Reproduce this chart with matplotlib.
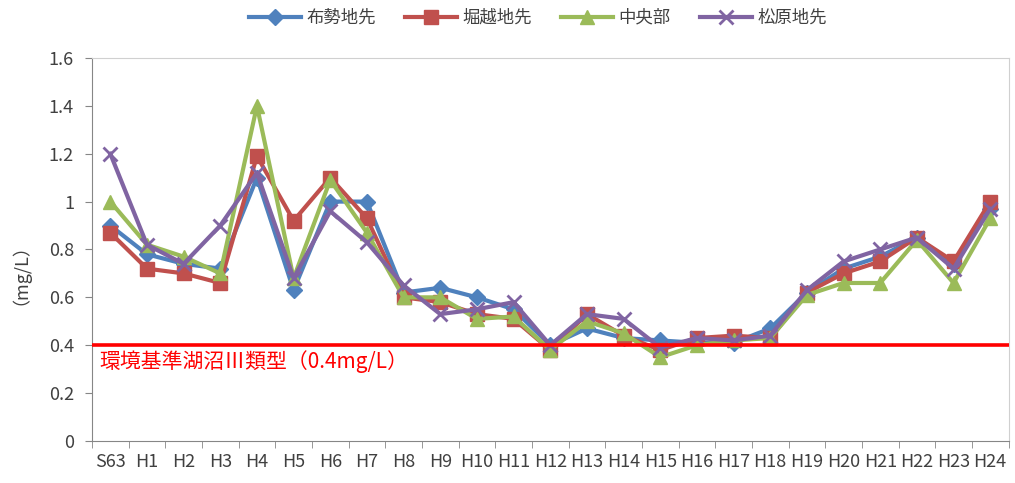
import matplotlib
matplotlib.use("Agg")
import matplotlib.pyplot as plt
import numpy as np

plt.rcParams['font.family'] = ['Noto Sans CJK JP', 'DejaVu Sans']

years = ["S63", "H1", "H2", "H3", "H4", "H5", "H6", "H7", "H8", "H9",
         "H10", "H11", "H12", "H13", "H14", "H15", "H16", "H17", "H18",
         "H19", "H20", "H21", "H22", "H23", "H24"]

fuse = [0.90, 0.78, 0.74, 0.72, 1.10, 0.63, 1.00, 1.00, 0.62, 0.64,
        0.60, 0.55, 0.40, 0.47, 0.43, 0.42, 0.41, 0.41, 0.47,
        0.62, 0.72, 0.77, 0.85, 0.74, 0.97]
horikoshi = [0.87, 0.72, 0.70, 0.66, 1.19, 0.92, 1.10, 0.93, 0.60, 0.58,
             0.53, 0.51, 0.38, 0.53, 0.44, 0.38, 0.43, 0.44, 0.43,
             0.62, 0.70, 0.75, 0.85, 0.75, 1.00]
chuo = [1.00, 0.82, 0.77, 0.70, 1.40, 0.68, 1.09, 0.87, 0.60, 0.60,
        0.51, 0.52, 0.38, 0.50, 0.45, 0.35, 0.40, 0.42, 0.43,
        0.61, 0.66, 0.66, 0.84, 0.66, 0.93]
matsubara = [1.20, 0.82, 0.74, 0.90, 1.12, 0.68, 0.96, 0.83, 0.65, 0.53,
             0.55, 0.58, 0.40, 0.53, 0.51, 0.39, 0.43, 0.42, 0.44,
             0.63, 0.75, 0.80, 0.85, 0.72, 0.97]

series_names = ["布勢地先", "堀越地先", "中央部", "松原地先"]
standard = 0.4
standard_label = "環境基準湖沼Ⅲ類型（0.4mg/L）"

fig = plt.figure(figsize=(10.15, 4.83), dpi=100)
ax = fig.add_axes([0.0906, 0.087, 0.903, 0.793])

x = np.arange(len(years))
styles = [
    dict(color="#4F81BD", marker="D", markersize=8.5),
    dict(color="#C0504D", marker="s", markersize=9.5),
    dict(color="#9BBB59", marker="^", markersize=10.5),
    dict(color="#8064A2", marker="x", markersize=10, markeredgewidth=2.0),
]
for vals, name, st in zip([fuse, horikoshi, chuo, matsubara], series_names, styles):
    ax.plot(x, vals, linewidth=3.0, label=name, zorder=3, **st)

ax.axhline(standard, color="#FF0000", linewidth=2.6, zorder=5)
ax.text(-0.3, standard - 0.02, standard_label, color="#FF0000",
        fontsize=15, va="top", ha="left", zorder=6)

ax.set_xlim(-0.5, len(years) - 0.5)
ax.set_ylim(0, 1.6)
ax.set_yticks(np.arange(0, 1.61, 0.2))
ax.set_yticklabels(["0", "0.2", "0.4", "0.6", "0.8", "1", "1.2", "1.4", "1.6"])
ax.set_xticks(x)
ax.set_xticklabels(years)
ax.set_xticks(np.arange(-0.5, len(years), 1.0), minor=True)
ax.tick_params(axis="x", which="major", length=0, pad=9, labelsize=13)
ax.tick_params(axis="x", which="minor", length=5, color="#868686", direction="out")
ax.tick_params(axis="y", length=5, color="#868686", labelsize=13, pad=8)
for lbl in ax.get_yticklabels() + ax.get_xticklabels():
    lbl.set_color("#404040")

for side in ("left", "bottom"):
    ax.spines[side].set_color("#868686")
for side in ("top", "right"):
    ax.spines[side].set_color("#D0D0D0")

ax.set_ylabel("（mg/L）", fontsize=13, color="#404040")
ax.yaxis.set_label_coords(-0.078, 0.46)

fig.legend(loc="center", bbox_to_anchor=(0.53, 0.963), ncol=4, frameon=False,
           fontsize=12.5, handlelength=3.0, handletextpad=0.3, columnspacing=1.7,
           labelcolor="#404040")

fig.savefig("out.png", dpi=100)
